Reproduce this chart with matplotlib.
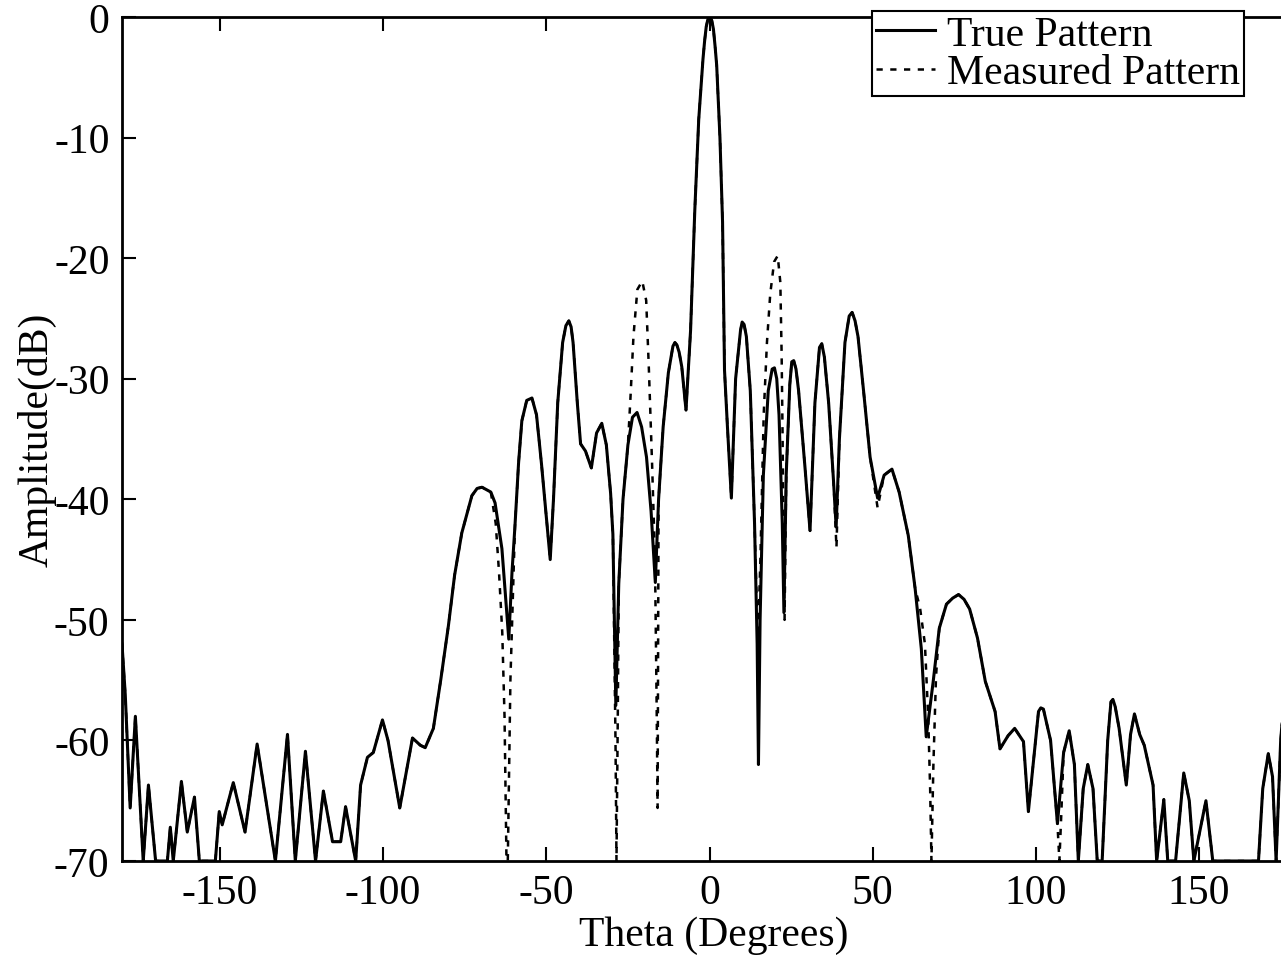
import matplotlib
matplotlib.use('Agg')
import matplotlib.pyplot as plt

plt.rcParams['font.family'] = ['Liberation Serif', 'DejaVu Serif']
plt.rcParams['axes.unicode_minus'] = False

# true pattern (degrees, dB)
theta_true = [-180, -179.0, -177.5, -175.9, -173.5, -171.9, -169.7, -166.1, -165.2, -164.3,
              -161.8, -160.0, -157.8, -156.3, -151.4, -150.2, -149.3, -145.9, -142.3, -138.6,
              -133.0, -129.3, -126.9, -123.8, -120.7, -118.3, -115.5, -113.0, -111.5, -108.4,
              -106.9, -104.8, -103.0, -100.2, -98.5, -94.9, -91.0, -88.6, -87.1, -84.6,
              -82.3, -80.0, -78.1, -75.9, -72.8, -71.2, -69.7, -67.0, -65.7, -63.6, -61.5,
              -60.5, -59.6, -58.5, -57.5, -56.0, -54.4, -53.0, -51.5, -50.0, -48.8,
              -47.8, -46.5, -45.0, -44.0, -43.1, -42.4, -41.8, -40.5, -39.5, -38.0, -36.2, -34.6,
              -33.0, -31.6, -30.3, -29.6, -28.7, -27.8, -26.5, -25.0, -23.6, -22.2,
              -20.8, -19.3, -17.9, -16.6, -15.6, -14.2, -12.6, -11.2, -10.6, -10.0, -9.3, -8.5,
              -7.2, -5.8, -4.5, -3.3, -2.0, -1.5, -1.0, -0.5, 0.2, 0.7, 1.2, 1.7, 2.2, 3.2,
              4.0, 4.6, 5.5, 6.7, 8.0, 9.5, 10.0, 10.6, 11.3, 12.5, 13.8, 14.6,
              15.0, 15.5, 16.5, 18.0, 19.2, 19.9, 20.6, 21.3, 22.3, 22.8, 23.5, 24.6,
              25.2, 25.8, 26.5, 27.3, 29.3, 30.8, 32.3, 33.7, 34.4, 35.2, 36.5, 38.0, 38.8, 39.8,
              41.5, 42.8, 43.7, 44.6, 45.5, 47.2, 49.2, 51.5, 53.5, 55.9, 58.1, 60.9,
              63.0, 64.9, 66.4, 68.5, 70.4, 72.6, 74.5, 76.3, 78.0, 79.7, 82.1, 84.5,
              87.5, 89.0, 91.5, 93.5, 96.2, 97.7, 100.8, 101.5, 102.3, 104.5, 106.6,
              108.5, 110.2, 111.8, 113.0, 114.5, 115.9, 117.5, 118.8, 120.3, 122.0,
              123.0, 123.6, 124.3, 125.5, 127.7, 129.0, 130.2, 131.8, 133.2, 135.9, 137.0, 139.2,
              140.4, 142.8, 145.3, 147.0, 148.4, 152.1, 154.2, 168.2, 169.5, 171.2,
              172.5, 173.6, 175.0, 176.5]
amp_true = [-52, -56.2, -65.6, -58.0, -70, -63.7, -70, -70, -67.2, -70,
            -63.4, -67.6, -64.7, -70, -70, -65.9, -67.0, -63.5, -67.6, -60.3,
            -70, -59.5, -70, -60.9, -70, -64.2, -68.4, -68.4, -65.5, -70,
            -63.7, -61.4, -61.0, -58.3, -60.0, -65.6, -59.8, -60.4, -60.6, -59.0,
            -54.9, -50.5, -46.3, -42.8, -39.7, -39.1, -39.0, -39.4, -40.3, -44.1, -51.6,
            -46.0, -42.2, -37.0, -33.5, -31.8, -31.6, -33.0, -37.0, -41.5, -45.0,
            -40.0, -32.0, -27.0, -25.6, -25.2, -25.7, -27.0, -32.0, -35.4, -36.0, -37.4, -34.5,
            -33.7, -35.5, -39.5, -42.9, -57.1, -47.0, -40.0, -35.5, -33.2, -32.8,
            -34.0, -36.5, -41.0, -46.9, -40.0, -34.0, -29.5, -27.3, -27.0, -27.2, -27.8, -29.0,
            -32.6, -26.0, -16.0, -8.5, -3.5, -2.0, -0.8, -0.2, 0.0, -0.3, -1.0, -2.4, -4.0, -10.0,
            -17.0, -29.3, -34.0, -39.9, -30.0, -26.0, -25.3, -25.5, -26.5, -31.0, -42.0, -52.0,
            -62.0, -50.0, -38.0, -31.0, -29.2, -29.1, -30.0, -33.0, -42.0, -49.4, -38.0, -30.5,
            -28.6, -28.5, -29.2, -31.0, -37.5, -42.6, -32.0, -27.4, -27.1, -28.2, -32.0, -38.5, -42.3, -35.0,
            -27.0, -24.8, -24.5, -25.2, -26.5, -31.0, -36.5, -39.9, -38.0, -37.5, -39.4, -43.0,
            -47.4, -52.4, -59.7, -55.2, -50.7, -48.7, -48.2, -47.9, -48.3, -49.1, -51.5, -55.1,
            -57.6, -60.7, -59.6, -59.0, -60.1, -65.9, -57.6, -57.3, -57.4, -60.0, -66.9,
            -61.0, -59.2, -62.0, -70, -64.0, -62.0, -64.0, -70, -70, -60.0,
            -56.8, -56.6, -57.2, -59.0, -63.7, -59.5, -57.8, -59.5, -60.4, -63.7, -70, -64.9,
            -70, -70, -62.7, -65.0, -70, -65.0, -70, -70, -64.0, -61.1,
            -63.0, -70, -60.0, -55.0]

# where the measured pattern leaves the true one
meas_windows = [(-67.0, -59.6), (-29.6, -27.8), (-25.0, -15.6), (13.8, 23.5),
                (38.0, 39.8), (49.2, 53.5), (63.0, 70.4), (104.5, 108.5)]
theta_dev = [-67.0, -65.5, -64.5, -63.5, -62.8, -62.2, -61.8, -61.0, -59.6,
             -29.6, -28.8, -28.5, -28.1, -27.8,
             -25.0, -24.2, -23.3, -22.1, -20.6, -19.4, -18.6, -17.6, -16.7, -16.2, -15.9, -15.6,
             13.8, 14.8, 15.6, 16.6, 17.6, 18.6, 19.8, 20.9, 21.7, 22.1, 22.4, 22.7, 23.0, 23.5,
             38.0, 38.9, 39.8,
             49.2, 51.5, 53.5,
             63.0, 64.5, 66.0, 67.0, 67.6, 68.0, 68.6, 69.4, 70.4,
             104.5, 106.6, 107.2, 107.8, 108.5]
amp_dev = [-39.4, -42.0, -46.0, -51.0, -58.0, -70, -70, -55.0, -42.2,
           -42.9, -60.0, -70, -58.0, -47.0,
           -35.5, -31.5, -26.5, -22.6, -21.9, -23.5, -29.0, -37.0, -45.0, -57.0, -65.6, -40.0,
           -42.0, -52.0, -45.0, -33.0, -27.0, -23.0, -20.3, -19.8, -22.0, -28.0, -35.0, -44.0, -50.0, -38.0,
           -38.5, -44.0, -35.0,
           -36.5, -40.7, -38.0,
           -47.4, -49.0, -52.0, -58.0, -64.0, -70, -62.0, -54.7, -50.7,
           -60.0, -66.9, -70, -66.0, -61.0]

pts = [(t, a) for t, a in zip(theta_true, amp_true)
       if not any(lo <= t <= hi for lo, hi in meas_windows)]
pts += list(zip(theta_dev, amp_dev))
pts.sort()
theta_meas = [p[0] for p in pts]
amp_meas = [p[1] for p in pts]

fig = plt.figure(figsize=(12.81, 9.62), dpi=100)
ax = fig.add_axes([122 / 1281, 1 - 862 / 962, 1175 / 1281, 844 / 962])

ax.plot(theta_meas, amp_meas, color='black', lw=1.8, linestyle=(0, (2.5, 3)), label='Measured Pattern')
ax.plot(theta_true, amp_true, color='black', lw=2.2, label='True Pattern')

ax.set_xlim(-180, 180)
ax.set_ylim(-70, 0)
ax.set_xticks([-150, -100, -50, 0, 50, 100, 150])
ax.set_yticks([0, -10, -20, -30, -40, -50, -60, -70])
ax.tick_params(direction='in', top=True, right=True, length=10, width=1.5,
               labelsize=30, pad=9)
for s in ax.spines.values():
    s.set_linewidth(2)

ax.set_xlabel('Theta (Degrees)', fontsize=30)
ax.set_ylabel('Amplitude(dB)', fontsize=30)
ax.xaxis.label.set_va('center')
ax.yaxis.label.set_va('center')
ax.xaxis.set_label_coords(0.504, -0.087)
ax.yaxis.set_label_coords(-0.072, 0.5)

h, l = ax.get_legend_handles_labels()
leg = fig.legend(h[::-1], l[::-1], loc='upper left', bbox_to_anchor=(872 / 1281, 1 - 12 / 962),
                 borderaxespad=0, fontsize=30, frameon=True, fancybox=False,
                 labelspacing=0.0, handlelength=1.4, handletextpad=0.3,
                 borderpad=0.1)
leg.get_frame().set_edgecolor('black')
leg.get_frame().set_linewidth(1.5)
leg.get_frame().set_alpha(1)

fig.savefig('out.png', dpi=100)
